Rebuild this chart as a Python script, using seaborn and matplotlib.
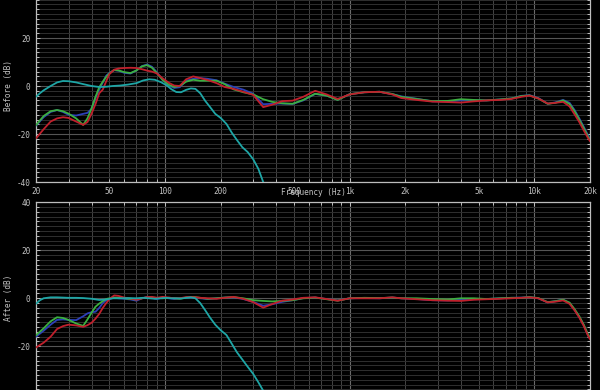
import numpy as np
import pandas as pd
import matplotlib
matplotlib.use("Agg")
import matplotlib.pyplot as plt
import matplotlib.ticker as mticker
import seaborn as sns

# ---------------- data ----------------
freq = [20, 22, 24, 26, 28, 30, 33, 36, 38, 40, 42, 44, 46, 48, 50, 53, 56, 60, 65, 70,
        75, 80, 85, 90, 97, 105, 112, 120, 130, 142, 155, 170, 190, 210, 235, 265, 300,
        340, 380, 430, 490, 560, 650, 750, 860, 1000, 1200, 1450, 1700, 1900, 2300, 2800,
        3400, 4000, 4700, 5500, 6500, 7500, 8500, 9400, 10500, 11800, 13000, 14300, 15500,
        16500, 17500, 18500, 19500, 20000]

before_red = [-21.8, -18, -14.8, -13.5, -13, -13.3, -14.8, -16.2, -15, -11.5, -7.5, -3, -1.5, 2, 5,
              6.8, 7.3, 7.5, 7.6, 7.5, 7, 6.4, 6, 5.3, 3.2, 1.3, 0.2, 0, 2.8, 4, 3.3, 2.5, 1.2,
              -0.4, -1.2, -2.4, -3.7, -8.8, -7.8, -6.3, -6.1, -4.5, -2, -3.5, -5.4, -3.5, -2.6,
              -2.4, -3.5, -5, -5.8, -6.5, -6.7, -6.9, -6.4, -6, -5.8, -5.4, -4.5, -4, -5.2, -7.3,
              -7, -6.6, -8.5, -11.8, -15, -18.5, -21.6, -23]
before_green = [-16.3, -12.5, -10.5, -10, -10.5, -11.5, -13.5, -16.2, -13.5, -9.3, -4.5, -0.5, 1.8,
                3.8, 5.3, 6.7, 6.5, 5.8, 5.4, 6.5, 8.2, 8.7, 7.6, 5.5, 2.5, 0.5, -0.4, 0, 1.8, 2.6,
                2.2, 2.2, 2.2, 0.8, -1.4, -2.6, -3.5, -5.5, -6.6, -7.2, -7.4, -5.8, -3.2, -4, -5.8,
                -3.4, -2.6, -2.4, -3.3, -4.5, -5.4, -6.3, -6.2, -5.5, -5.8, -6, -5.6, -5.2, -4.2,
                -3.9, -5.2, -7.4, -7, -6, -7.5, -10.5, -14, -17.5, -21, -22.5]
before_blue = [-16.5, -13, -10.8, -10, -10.8, -12, -12.3, -11.6, -11.2, -9.5, -5, -1.5, 1.5, 4.3, 5.5,
               6.6, 6.4, 5.5, 5.2, 6.5, 8.3, 9, 8, 5.8, 2.6, 0.2, -0.8, -0.5, 2.2, 3, 3.3, 3, 2.4,
               1, -0.4, -1.5, -3.2, -7.6, -7.4, -7.3, -7.5, -6, -3.3, -4, -5.7, -3.4, -2.6, -2.4,
               -3.4, -4.3, -5.3, -6.4, -6.4, -6, -6, -6, -5.6, -5.2, -4.1, -3.8, -5, -7.4, -6.8,
               -5.8, -7, -10, -13.5, -17, -20.5, -22]

after_red = [-20.5, -18.5, -16, -12.8, -11.6, -11, -11.3, -11.9, -11.2, -10.2, -8.5, -6.5, -4, -2,
             -0.3, 1.2, 1, 0.3, -0.1, -0.6, 0, 0.5, 0.6, 0.2, 0.6, 0.3, 0, 0, 0.5, 0.5, 0.2, 0,
             -0.2, 0.2, 0.6, -0.2, -1.6, -3.9, -2.4, -1, -0.5, 0.2, 0.4, -0.3, -1, 0, 0, 0, 0.4,
             0, -0.4, -0.8, -1, -1.1, -0.6, -0.4, -0.2, 0, 0.2, 0.4, 0, -1.7, -1.4, -0.9, -2.3,
             -5, -8, -11.5, -15.5, -17]
after_green = [-15.4, -12.5, -9.6, -7.9, -8.2, -9, -10.5, -11.5, -8.8, -6, -3.5, -2.2, -1.2, -0.3, 0,
               0.3, 0.2, 0, -0.3, -0.5, 0, 0.4, 0.3, 0.2, 0, 0.2, 0, -0.2, 0.3, 0.6, 0.2, -0.2, 0,
               0.3, 0.5, 0, -0.8, -1.1, -1.3, -1.1, -0.8, 0, 0.3, -0.4, -1, 0, 0.2, 0.1, 0.3, 0, 0,
               -0.3, -0.5, 0, 0, -0.3, 0, 0.2, 0.2, 0.5, 0.1, -1.6, -1.2, -0.6, -1.8, -4.5, -7.5,
               -11, -15, -16.5]
after_blue = [-16, -13.5, -11, -9, -8.8, -9, -9.1, -7.5, -6.3, -5.8, -5.6, -4, -2, -0.8, -0.3, 0.2, 0,
              -0.2, -0.5, -1, 0, 0.6, 0.3, -0.3, 0.3, 0, -0.3, 0, 0.2, 0.4, 0, -0.3, 0, 0.3, 0.4,
              -0.3, -1.5, -3.1, -2.5, -1.5, -0.8, 0.1, 0.3, -0.3, -0.9, 0, 0.1, 0, 0.3, 0, -0.3,
              -0.8, -0.9, -0.6, -0.4, -0.3, 0, 0.2, 0.3, 0.5, 0, -1.7, -1.2, -0.6, -2, -4.8, -7.8,
              -11.2, -15.2, -16.8]

freq_sub = [20, 21, 22, 24, 26, 28, 30, 33, 36, 40, 44, 48, 52, 57, 63, 70, 76, 82, 88, 95, 102,
            108, 115, 122, 130, 138, 146, 155, 165, 175, 187, 200, 215, 230, 245, 262, 280, 300,
            320, 340, 360, 380]
before_sub = [-4.5, -3, -1.8, 0, 1.5, 2.1, 2, 1.5, 0.8, 0, -0.4, -0.3, 0, 0.2, 0.6, 1.2, 2.3, 2.8,
              2.6, 1.6, 0.3, -1.3, -2.5, -2.6, -1.6, -1, -1.2, -3, -6.2, -8.7, -11.6, -13.3, -15.8,
              -19.5, -22.5, -25.5, -27.5, -30.5, -34.5, -40, -44, -48]
after_sub = [-2.3, -0.8, 0, 0.4, 0.4, 0.3, 0.2, 0.2, 0.1, -0.2, -0.7, -0.5, 0, 0, 0.1, 0, 0.2, 0,
             -0.2, 0, 0.2, 0, 0, -0.1, 0.2, 0.4, 0, -2, -5, -8, -11, -13.3, -15.3, -19, -22.5,
             -25.5, -28.5, -31.5, -35, -38.5, -43, -47]

series_order = ["blue", "green", "red", "sub"]
palette = {"red": "#c0202c", "green": "#3cb040", "blue": "#2c3fb8", "sub": "#1ea6a6"}


def make_frame(blue, green, red, sub):
    parts = []
    for name, f, v in [("blue", freq, blue), ("green", freq, green),
                       ("red", freq, red), ("sub", freq_sub, sub)]:
        parts.append(pd.DataFrame({"freq": f, "db": v, "ch": name}))
    return pd.concat(parts, ignore_index=True)


df_before = make_frame(before_blue, before_green, before_red, before_sub)
df_after = make_frame(after_blue, after_green, after_red, after_sub)

# ---------------- style ----------------
sns.set_theme(style="dark")
plt.rcParams["font.family"] = ["DejaVu Sans Mono", "DejaVu Sans"]
FS = 5.6
TXT = "#c4c4c4"

fig = plt.figure(figsize=(6, 3.9), dpi=100, facecolor="black")
ax1 = fig.add_axes([0.06, 0.5333, 0.9233, 0.4923])
ax2 = fig.add_axes([0.06, -0.011, 0.9233, 0.4923])


def fmt_freq(x, pos=None):
    m = round(x / 10 ** np.floor(np.log10(x)))
    if m not in (1, 2, 5):
        return ""
    if x >= 1000:
        return f"{int(round(x / 1000))}k"
    return f"{int(round(x))}"


def make_yfmt(hidden):
    def f(v, pos=None):
        if abs(v - hidden) < 1e-6:
            return ""
        return f"{int(round(v))}"
    return mticker.FuncFormatter(f)


for ax, df, ylab, hid in [(ax1, df_before, "Before (dB)", 40), (ax2, df_after, "After (dB)", -40)]:
    ax.set_facecolor("black")
    sns.lineplot(data=df, x="freq", y="db", hue="ch", hue_order=series_order,
                 palette=palette, estimator=None, sort=False, lw=1.3,
                 legend=False, ax=ax, zorder=3)
    ax.set_xscale("log")
    ax.set_xlim(20, 20000)
    ax.set_ylim(-40, 40)
    ax.xaxis.set_major_locator(mticker.LogLocator(base=10, subs=(1.0,), numticks=10))
    ax.xaxis.set_minor_locator(mticker.LogLocator(base=10, subs=np.arange(2, 10), numticks=20))
    ax.xaxis.set_major_formatter(mticker.FuncFormatter(fmt_freq))
    ax.xaxis.set_minor_formatter(mticker.FuncFormatter(fmt_freq))
    ax.yaxis.set_major_locator(mticker.MultipleLocator(20))
    ax.yaxis.set_minor_locator(mticker.MultipleLocator(2))
    ax.yaxis.set_major_formatter(make_yfmt(hid))
    ax.grid(True, which="major", axis="x", color="#6a6a6a", lw=0.8)
    ax.grid(True, which="minor", axis="x", color="#444444", lw=0.7)
    ax.grid(True, which="major", axis="y", color="#555555", lw=0.8)
    ax.grid(True, which="minor", axis="y", color="#2f2f2f", lw=0.7)
    for s in ax.spines.values():
        s.set_color("#bdbdbd")
        s.set_linewidth(0.9)
    ax.tick_params(which="both", direction="in", colors="#bdbdbd", labelcolor=TXT,
                   labelsize=FS, left=True, right=True, top=True, bottom=True,
                   length=3, width=0.7)
    ax.tick_params(which="minor", length=2)
    ax.tick_params(axis="y", pad=4)
    ax.tick_params(axis="x", pad=3.5)
    ax.set_ylabel(ylab, color=TXT, fontsize=FS)
    ax.yaxis.set_label_coords(-0.042, 0.5)
    ax.set_xlabel("")

ax1.set_xlabel("Frequency (Hz)", color=TXT, fontsize=FS)
ax1.xaxis.set_label_coords(0.5, -0.029)
ax2.tick_params(axis="x", which="both", labelbottom=False)

fig.savefig("out.png", dpi=100, facecolor="black")
